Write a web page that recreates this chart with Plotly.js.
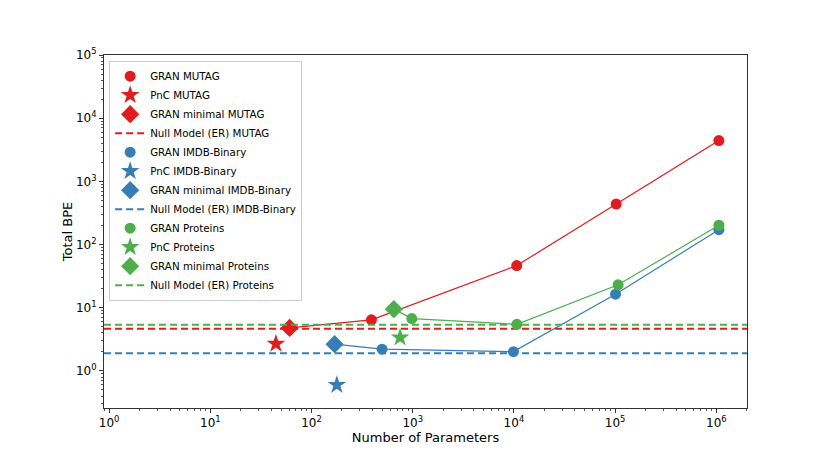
<!DOCTYPE html>
<html>
<head>
<meta charset="utf-8">
<script src="https://cdn.plot.ly/plotly-3.0.1.min.js"></script>
<style>
  body { margin: 0; background: #fff; }
  #plotArea { width: 830px; height: 467px; }
</style>
</head>
<body>
<div id="plotArea"></div>
<script>
// values (log-log)
var mutagGranX = [391, 10660, 102500, 1060000];
var mutagGranY = [6.43, 46.5, 437, 4420];
var mutagMinX = [60.7];
var mutagMinY = [4.8];
var mutagPncX = [44.5];
var mutagPncY = [2.68];
var mutagNull = 4.63;

var imdbGranX = [498, 9900, 101000, 1060000];
var imdbGranY = [2.21, 2.02, 16.4, 172];
var imdbMinX = [169];
var imdbMinY = [2.65];
var imdbPncX = [178];
var imdbPncY = [0.60];
var imdbNull = 1.90;

var protGranX = [980, 10700, 107000, 1060000];
var protGranY = [6.74, 5.46, 23.1, 202];
var protMinX = [650];
var protMinY = [9.5];
var protPncX = [750];
var protPncY = [3.37];
var protNull = 5.36;

var xLimits = [0.89, 2.01e6];
var yLimits = [0.259, 1e5];
var xTickVals = [1, 10, 100, 1000, 10000, 100000, 1000000];
var yTickVals = [1, 10, 100, 1000, 10000, 100000];
var tickText = ["10<sup>0</sup>", "10<sup>1</sup>", "10<sup>2</sup>", "10<sup>3</sup>",
  "10<sup>4</sup>", "10<sup>5</sup>", "10<sup>6</sup>"];

var red = "#e41a1c", blue = "#377eb8", green = "#4daf4a";

function connect(minX, minY, gx, gy, color) {
  return {
    x: minX.concat(gx), y: minY.concat(gy),
    mode: "lines", line: {color: color, width: 1.2},
    showlegend: false, hoverinfo: "skip", type: "scatter"
  };
}
function pts(x, y, name, color, symbol, size) {
  return {
    x: x, y: y, name: name, legendgroup: name,
    mode: "markers", marker: {color: color, symbol: symbol, size: size},
    type: "scatter", cliponaxis: false
  };
}
function nullLine(v, name, color) {
  return {
    x: xLimits, y: [v, v], name: name, legendgroup: name,
    mode: "lines", line: {color: color, width: 2, dash: "7px,4px"},
    type: "scatter"
  };
}

var trace = [
  connect(mutagMinX, mutagMinY, mutagGranX, mutagGranY, red),
  connect(imdbMinX, imdbMinY, imdbGranX, imdbGranY, blue),
  connect(protMinX, protMinY, protGranX, protGranY, green),
  pts(mutagGranX, mutagGranY, "GRAN MUTAG", red, "circle", 11),
  pts(mutagPncX, mutagPncY, "PnC MUTAG", red, "star", 14),
  pts(mutagMinX, mutagMinY, "GRAN minimal MUTAG", red, "diamond", 14),
  nullLine(mutagNull, "Null Model (ER) MUTAG", red),
  pts(imdbGranX, imdbGranY, "GRAN IMDB-Binary", blue, "circle", 11),
  pts(imdbPncX, imdbPncY, "PnC IMDB-Binary", blue, "star", 14),
  pts(imdbMinX, imdbMinY, "GRAN minimal IMDB-Binary", blue, "diamond", 14),
  nullLine(imdbNull, "Null Model (ER) IMDB-Binary", blue),
  pts(protGranX, protGranY, "GRAN Proteins", green, "circle", 11),
  pts(protPncX, protPncY, "PnC Proteins", green, "star", 14),
  pts(protMinX, protMinY, "GRAN minimal Proteins", green, "diamond", 14),
  nullLine(protNull, "Null Model (ER) Proteins", green)
];

var axisCommon = {
  type: "log", showgrid: false, zeroline: false,
  showline: true, linecolor: "#333", linewidth: 1, mirror: true,
  ticks: "outside", ticklen: 4, tickcolor: "#333",
  ticktext: tickText,
  minor: {ticks: "outside", ticklen: 2, tickcolor: "#555", dtick: "D1", showgrid: false},
  tickfont: {family: "DejaVu Sans", size: 12, color: "#000"}
};

var layout = {
  width: 830, height: 467,
  margin: {l: 104, r: 83, t: 55, b: 59},
  paper_bgcolor: "#fff", plot_bgcolor: "#fff",
  font: {family: "DejaVu Sans", color: "#000"},
  xaxis: Object.assign({}, axisCommon, {
    range: [Math.log10(xLimits[0]), Math.log10(xLimits[1])],
    tickmode: "array", tickvals: xTickVals,
    title: {text: "Number of Parameters", font: {size: 13}, standoff: 1}
  }),
  yaxis: Object.assign({}, axisCommon, {
    range: [Math.log10(yLimits[0]), Math.log10(yLimits[1])],
    tickmode: "array", tickvals: yTickVals,
    title: {text: "Total BPE", font: {size: 13}, standoff: 0}
  }),
  legend: {
    x: 0.008, y: 0.984, xanchor: "left", yanchor: "top",
    bgcolor: "#fff", bordercolor: "#ccc", borderwidth: 1,
    font: {family: "DejaVu Sans", size: 10.3},
    traceorder: "grouped", tracegroupgap: 0
  },
  showlegend: true
};

Plotly.newPlot("plotArea", trace, layout, {staticPlot: true});
</script>
</body>
</html>
